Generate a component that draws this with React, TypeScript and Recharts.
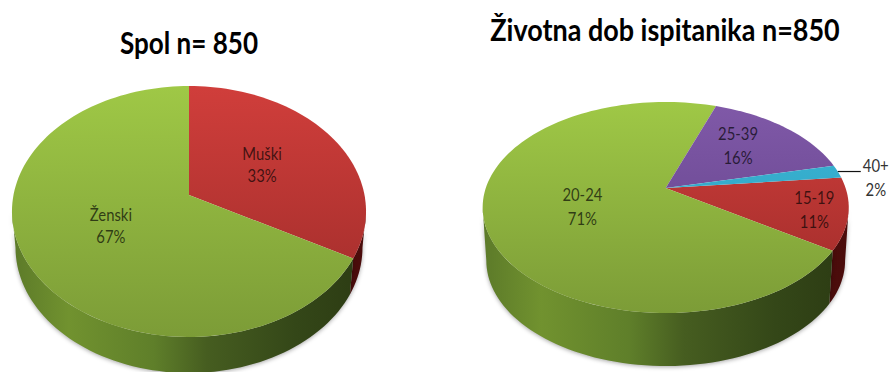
import React from "react";
import { PieChart, Pie } from "recharts";

const sexCategories = ["Muški", "Ženski"];
const sexValues = [33, 67];
const ageCategories = ["15-19", "20-24", "25-39", "40+"];
const ageValues = [11, 71, 16, 2];

const sexColors = ["red", "green"];
const ageColors = ["red", "green", "purple", "blue"];

const PALETTE: Record<string, { top: string; bottom: string; side: [number, string][] }> = {
  green: {
    top: "#9fc846",
    bottom: "#7c9c37",
    side: [[0, "#5c7a29"], [0.16, "#71922f"], [0.4, "#5f7f2a"], [0.55, "#465d20"], [0.8, "#344718"], [1, "#2c3b13"]],
  },
  red: { top: "#d03e3b", bottom: "#9c2b29", side: [[0, "#6a1412"], [1, "#4a0c0b"]] },
  purple: { top: "#8059a8", bottom: "#5f4087", side: [[0, "#3d2858"], [1, "#3d2858"]] },
  blue: { top: "#3cb6d4", bottom: "#2b9dbf", side: [[0, "#1a6478"], [1, "#1a6478"]] },
};

type Geo = {
  id: string; cx: number; cy: number; rx: number; a: number; b: number; k: number; depth: number; yTop: number; yBottom: number;
  labelR: number[]; labelDy: number[]; lineGap: number;
};

const LEFT: Geo = { id: "sex", cx: 189, cy: 195, rx: 177, a: 175.5, b: 123.3, k: 0.1315, depth: 36, yTop: 86, yBottom: 337, labelR: [0.5, 0.5], labelDy: [-2, -3], lineGap: 22 };
const RIGHT: Geo = { id: "age", cx: 665.7, cy: 188, rx: 183, a: 179.9, b: 101.9, k: 0.185, depth: 53, yTop: 102, yBottom: 313, labelR: [0.82, 0.475, 0.58, 1], labelDy: [-2, 0, -8, 8], lineGap: 24 };

const RAD = Math.PI / 180;

// perspective projection of a point on the pie's disc (r in 0..1, phi in degrees)
function proj(g: Geo, phi: number, r = 1) {
  const u = Math.cos(phi * RAD) * r;
  const v = Math.sin(phi * RAD) * r;
  const w = 1 + g.k * v;
  return { X: (g.a * u) / w, Y: (g.b * v) / w };
}

function makeShape(g: Geo, colors: string[]) {
  return (props: any) => {
    const { startAngle, endAngle, index } = props;
    const cName = colors[index];
    const pal = PALETTE[cName];
    const steps = Math.max(2, Math.ceil(Math.abs(endAngle - startAngle) / 2));
    const rim: string[] = [];
    for (let i = 0; i <= steps; i++) {
      const phi = startAngle + ((endAngle - startAngle) * i) / steps;
      const p = proj(g, phi);
      rim.push(`${(g.cx + p.X).toFixed(2)},${(g.cy - p.Y).toFixed(2)}`);
    }
    const topPath = `M${g.cx},${g.cy}L${rim.join("L")}Z`;

    // visible side wall: the front part of the rim
    const lo = 180 + Math.asin(g.k) / RAD;
    const hi = 360 - Math.asin(g.k) / RAD;
    const normalize = (x: number) => ((x % 360) + 360) % 360;
    let a0 = Math.min(startAngle, endAngle);
    let a1 = Math.max(startAngle, endAngle);
    const shift = Math.ceil((lo - a1) / 360) * 360;
    a0 += shift;
    a1 += shift;
    const s0 = Math.max(a0, lo);
    const s1 = Math.min(a1, hi);
    let sidePath = "";
    if (s1 > s0) {
      const n = Math.max(2, Math.ceil((s1 - s0) / 2));
      const upper: string[] = [];
      const lower: string[] = [];
      for (let i = 0; i <= n; i++) {
        const phi = normalize(s0 + ((s1 - s0) * i) / n);
        const p = proj(g, phi);
        upper.push(`${(g.cx + p.X).toFixed(2)},${(g.cy - p.Y).toFixed(2)}`);
        lower.unshift(`${(g.cx + p.X * 0.98).toFixed(2)},${(g.cy - p.Y + g.depth).toFixed(2)}`);
      }
      sidePath = `M${upper.join("L")}L${lower.join("L")}Z`;
    }
    const topId = `${g.id}-top-${index}`;
    const sideId = `${g.id}-side-${index}`;
    return (
      <g>
        <defs>
          <linearGradient id={topId} gradientUnits="userSpaceOnUse" x1="0" y1={g.yTop} x2="0" y2={g.yBottom}>
            <stop offset="0" stopColor={pal.top} />
            <stop offset="1" stopColor={pal.bottom} />
          </linearGradient>
          <linearGradient id={sideId} gradientUnits="userSpaceOnUse" x1={g.cx - g.rx} y1="0" x2={g.cx + g.rx} y2="0">
            {pal.side.map(([o, c]) => (
              <stop key={o} offset={o} stopColor={c} />
            ))}
          </linearGradient>
        </defs>
        {sidePath && (
          <path d={sidePath} fill={`url(#${sideId})`} style={{ filter: "drop-shadow(0 1px 2px rgba(0,0,0,0.35))" }} />
        )}
        <path d={topPath} fill={`url(#${topId})`} />
      </g>
    );
  };
}

const labelStyle = {
  fontFamily: "Lato, 'Open Sans', sans-serif",
  fontSize: 16.5,
};

function makeLabel(g: Geo, names: string[], values: number[]) {
  return (props: any) => {
    const { midAngle, index } = props;
    const p = proj(g, midAngle, g.labelR[index]);
    const outside = g.labelR[index] >= 1;
    const px = g.cx + p.X;
    const py = g.cy - p.Y;
    const tx = outside ? px + 38 : px;
    const ty = (outside ? py - 5 : py) + g.labelDy[index];
    const fill = outside ? "#333" : "#000";
    const op = outside ? 1 : 0.68;
    return (
      <g>
        {outside && <line x1={px} y1={py} x2={px + 23} y2={py} stroke="#111" strokeWidth={1.2} />}
        <text transform={`translate(${tx},${ty - 3}) scale(0.9,1)`} textAnchor="middle" fill={fill} fillOpacity={op} style={labelStyle}>
          {names[index]}
        </text>
        <text transform={`translate(${tx},${ty - 3 + g.lineGap}) scale(0.9,1)`} textAnchor="middle" fill={fill} fillOpacity={op} style={labelStyle}>
          {values[index]}%
        </text>
      </g>
    );
  };
}

const sexData = sexCategories.map((name, i) => ({ name, value: sexValues[i] }));
const ageData = ageCategories.map((name, i) => ({ name, value: ageValues[i] }));

const titleStyle: React.CSSProperties = {
  position: "absolute",
  fontFamily: "Lato, sans-serif",
  fontWeight: 700,
  color: "#000",
  whiteSpace: "nowrap",
  lineHeight: 1,
  transform: "translateX(-50%) scale(0.93,1.08)",
};

export default function App() {
  return (
    <div style={{ position: "absolute", left: 0, top: 0, width: 890, height: 372, overflow: "hidden", background: "#fff" }}>
      <PieChart width={890} height={372} margin={{ top: 0, right: 0, bottom: 0, left: 0 }}>
        <Pie
          data={sexData}
          dataKey="value"
          nameKey="name"
          cx={LEFT.cx}
          cy={LEFT.cy}
          innerRadius={0}
          outerRadius={LEFT.a}
          startAngle={90}
          endAngle={-270}
          stroke="none"
          isAnimationActive={false}
          shape={makeShape(LEFT, sexColors)}
          label={makeLabel(LEFT, sexCategories, sexValues)}
          labelLine={false}
        />
        <Pie
          data={ageData}
          dataKey="value"
          nameKey="name"
          cx={RIGHT.cx}
          cy={RIGHT.cy}
          innerRadius={0}
          outerRadius={RIGHT.a}
          startAngle={6}
          endAngle={-354}
          stroke="none"
          isAnimationActive={false}
          shape={makeShape(RIGHT, ageColors)}
          label={makeLabel(RIGHT, ageCategories, ageValues)}
          labelLine={false}
        />
      </PieChart>
      <div style={{ ...titleStyle, left: 189, top: 28, fontSize: 28 }}>Spol n= 850</div>
      <div style={{ ...titleStyle, left: 664.5, top: 14, fontSize: 29 }}>Životna dob ispitanika n=850</div>
    </div>
  );
}
